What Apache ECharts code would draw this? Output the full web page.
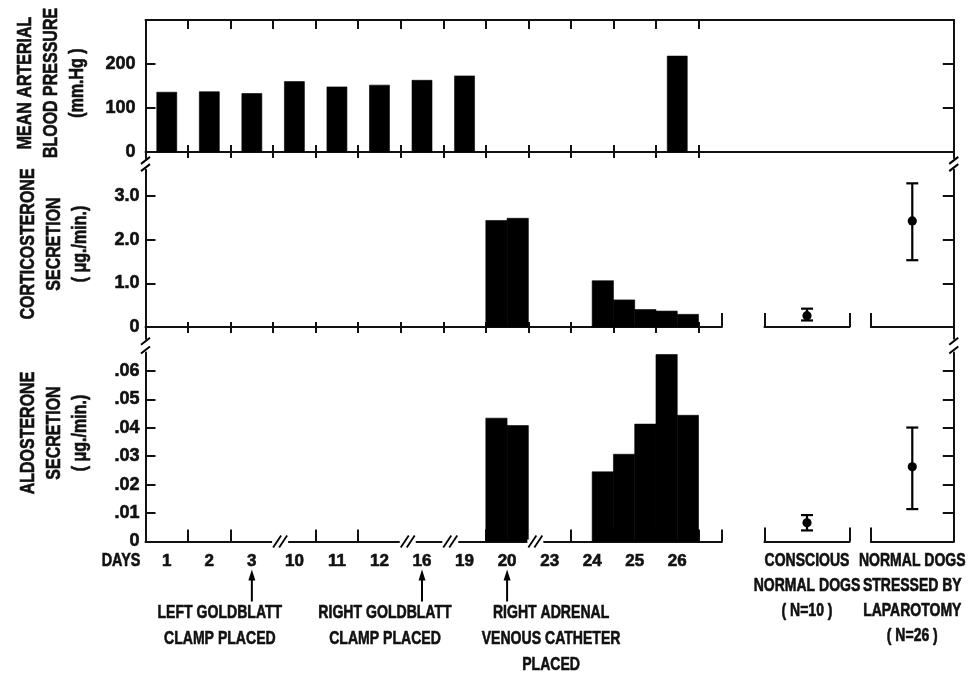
<!DOCTYPE html>
<html><head><meta charset="utf-8">
<script src="https://cdn.jsdelivr.net/npm/echarts@6/dist/echarts.min.js"></script>
<style>html,body{margin:0;padding:0;background:#fff}#c{width:969px;height:673px}</style>
</head><body><div id="c"></div>
<script>
// ---------------- DATA ----------------
const days = ['1','2','3','10','11','12','16','19','20','23','24','25','26'];
const bloodPressure = [136,137,133,160,148,152,163,173,null,null,null,null,218];
// adrenal secretion, first and second half of each day
const corticoFirstHalf  = [null,null,null,null,null,null,null,null,2.44,null,null,0.62,0.365];
const corticoSecondHalf = [null,null,null,null,null,null,null,null,2.49,null,1.06,0.40,0.29];
const aldoFirstHalf  = [null,null,null,null,null,null,null,null,0.0434,null,null,0.0307,0.0658];
const aldoSecondHalf = [null,null,null,null,null,null,null,null,0.0408,null,0.0245,0.0413,0.0444];
// control groups
const groups = ['CONSCIOUS\nNORMAL DOGS\n( N=10 )', 'NORMAL DOGS\nSTRESSED BY\nLAPAROTOMY\n( N=26 )'];
const corticoMean = [0.26, 2.43], corticoLow = [0.15, 1.53], corticoHigh = [0.42, 3.29];
const aldoMean = [0.0066, 0.0263], aldoLow = [0.0039, 0.0114], aldoHigh = [0.0093, 0.0401];
// tick labels
const bpTicks = [0,100,200], bpLabels = ['0','100','200'];
const corticoTicks = [0,1,2,3], corticoLabels = ['0','1.0','2.0','3.0'];
const aldoTicks = [0,0.01,0.02,0.03,0.04,0.05,0.06], aldoLabels = ['0','.01','.02','.03','.04','.05','.06'];
// time-axis breaks (between day index b-1 and b) and annotations
const breakAfter = [3,6,7,9];
const annotationDays = ['3','16','20'];
const annotationTexts = ['LEFT GOLDBLATT\nCLAMP PLACED','RIGHT GOLDBLATT\nCLAMP PLACED','RIGHT ADRENAL\nVENOUS CATHETER\nPLACED'];

// ---------------- LAYOUT ----------------
const annotationShift = [-32,-37,44];
const FONT = "'Liberation Sans',Arial,sans-serif";
const INK = '#111';
const L = 145.5, D = 42.54;
const gx = d => L + d * D;
const MAIN_MAX = 13.55, CONS = [14.55, 16.55], STRS = [17.05, 19];
const P = {
  top: {top: 20, bottom: 158.2, min: -14, max: 300},
  mid: {top: 169.8, bottom: 338.8, min: -0.27, max: 3.6},
  bot: {top: 352.5, bottom: 541.5, min: 0, max: 0.0665}
};
const lineStyle = {color: INK, width: 2};
const dayBounds = days.map((d, i) => i + 1);
const HEAVY = 0.6;

function grid(x0, x1, p) {
  return {left: gx(x0), width: gx(x1) - gx(x0), top: p.top, height: p.bottom - p.top, containLabel: false, outerBoundsMode: 'none'};
}
function nearestLabel(vals, labs) {
  return v => { let bi = 0; vals.forEach((t, i) => { if (Math.abs(t - v) < Math.abs(vals[bi] - v)) bi = i; }); return labs[bi]; };
}
function yAx(g, p, o) {
  return {
    type: 'value', gridIndex: g, min: p.min, max: p.max, position: o.position || 'left',
    axisLine: {show: !!o.line, onZero: false, lineStyle},
    axisTick: {show: !!o.ticks, inside: true, length: o.tickLen || 10, customValues: o.ticks || [], lineStyle},
    axisLabel: {show: !!o.labelValues, customValues: o.labelValues, formatter: o.formatter, margin: o.margin || 6,
      color: INK, fontFamily: FONT, fontWeight: 'bold', fontSize: 18, textBorderColor: INK, textBorderWidth: HEAVY},
    splitLine: {show: false}, splitArea: {show: false}
  };
}
function xAx(g, min, max, o) {
  const ax = {
    type: 'value', gridIndex: g, min, max, position: o.position || 'bottom',
    axisLine: {show: !!o.line, onZero: o.onZeroIdx != null, lineStyle},
    axisTick: {show: !!o.ticks, inside: o.inside !== false, length: o.tickLen || 8, customValues: o.ticks || [], lineStyle},
    axisLabel: {show: !!o.labelValues, customValues: o.labelValues, formatter: o.formatter, margin: o.margin || 10,
      color: INK, fontFamily: FONT, fontWeight: 'bold', fontSize: o.fontSize || 17, textBorderColor: INK, textBorderWidth: HEAVY},
    splitLine: {show: false}
  };
  if (o.onZeroIdx != null) ax.axisLine.onZeroAxisIndex = o.onZeroIdx;
  return ax;
}

const grids = [
  grid(0, 19, P.top),
  grid(0, MAIN_MAX, P.mid), grid(CONS[0], CONS[1], P.mid), grid(STRS[0], STRS[1], P.mid),
  grid(0, MAIN_MAX, P.bot), grid(CONS[0], CONS[1], P.bot), grid(STRS[0], STRS[1], P.bot)
];

const yAxes = [
  yAx(0, P.top, {line: true, ticks: [100,200], labelValues: bpTicks, formatter: nearestLabel(bpTicks, bpLabels), margin: 10}),
  yAx(0, P.top, {position: 'right', line: true, ticks: [100,200], tickLen: 11}),
  yAx(1, P.mid, {line: true, ticks: [1,2,3], labelValues: corticoTicks, formatter: nearestLabel(corticoTicks, corticoLabels)}),
  yAx(2, P.mid, {}),
  yAx(3, P.mid, {position: 'right', line: true, ticks: [1,2,3], tickLen: 11}),
  yAx(4, P.bot, {line: true, ticks: aldoTicks.slice(1), labelValues: aldoTicks, formatter: nearestLabel(aldoTicks, aldoLabels)}),
  yAx(5, P.bot, {}),
  yAx(6, P.bot, {position: 'right', line: true, ticks: aldoTicks.slice(1), tickLen: 11})
];

const CONS_C = (CONS[0] + CONS[1]) / 2, STRS_C = (STRS[0] + STRS[1]) / 2;
const bottomTicks = dayBounds.filter(b => breakAfter.indexOf(b) < 0).concat([MAIN_MAX]);
const xAxes = [
  xAx(0, 0, 19, {position: 'top', line: true, ticks: dayBounds, tickLen: 9}),
  xAx(0, 0, 19, {line: true, ticks: dayBounds, tickLen: 7, onZeroIdx: 0}),
  xAx(0, 0, 19, {ticks: dayBounds, tickLen: 6, inside: false, onZeroIdx: 0}),
  xAx(1, 0, MAIN_MAX, {line: true, ticks: dayBounds, tickLen: 5, onZeroIdx: 2}),
  xAx(1, 0, MAIN_MAX, {ticks: dayBounds, tickLen: 6, inside: false, onZeroIdx: 2}),
  xAx(1, 0, MAIN_MAX, {ticks: [MAIN_MAX], tickLen: 14, onZeroIdx: 2}),
  xAx(2, CONS[0], CONS[1], {line: true, ticks: CONS, tickLen: 14, onZeroIdx: 3}),
  xAx(3, STRS[0], STRS[1], {line: true, ticks: [STRS[0]], tickLen: 14, onZeroIdx: 4}),
  xAx(4, 0, MAIN_MAX, {line: true, ticks: bottomTicks, tickLen: 12, onZeroIdx: 5,
    labelValues: days.map((d, i) => i + 0.5), formatter: v => days[Math.round(v - 0.5)], margin: 11}),
  xAx(5, CONS[0], CONS[1], {line: true, ticks: CONS, tickLen: 14, onZeroIdx: 6}),
  xAx(6, STRS[0], STRS[1], {line: true, ticks: [STRS[0]], tickLen: 14, onZeroIdx: 7})
];

// ---------------- SERIES ----------------
function rectRender(halfW) {
  return function (params, api) {
    const x = api.value(0), v = api.value(1);
    const a = api.coord([x - halfW, v]), b = api.coord([x + halfW, 0]);
    return {type: 'rect', shape: {x: a[0], y: a[1], width: b[0] - a[0], height: b[1] - a[1]},
      style: {fill: '#000', stroke: '#000', lineWidth: 0.6}};
  };
}
function halfDayData(first, second) {
  const out = [];
  first.forEach((v, i) => { if (v != null) out.push([i + 0.25, v]); });
  second.forEach((v, i) => { if (v != null) out.push([i + 0.75, v]); });
  return out;
}
function errRender(params, api) {
  const x = api.value(0);
  const pm = api.coord([x, api.value(1)]), pl = api.coord([x, api.value(2)]), ph = api.coord([x, api.value(3)]);
  const cap = 6, st = {stroke: '#000', lineWidth: 2.2};
  return {type: 'group', children: [
    {type: 'line', shape: {x1: pl[0], y1: pl[1], x2: ph[0], y2: ph[1]}, style: st},
    {type: 'line', shape: {x1: pl[0] - cap, y1: pl[1], x2: pl[0] + cap, y2: pl[1]}, style: st},
    {type: 'line', shape: {x1: ph[0] - cap, y1: ph[1], x2: ph[0] + cap, y2: ph[1]}, style: st},
    {type: 'circle', shape: {cx: pm[0], cy: pm[1], r: 4.6}, style: {fill: '#000'}}
  ]};
}
function breakRender(params, api) {
  const p = api.coord([api.value(0), 0]);
  const st = {stroke: '#000', lineWidth: 1.8};
  return {type: 'group', children: [
    {type: 'rect', shape: {x: p[0] - 1, y: p[1] - 2, width: 16, height: 4}, style: {fill: '#fff'}},
    {type: 'line', shape: {x1: p[0], y1: p[1] + 6, x2: p[0] + 8, y2: p[1] - 6}, style: st},
    {type: 'line', shape: {x1: p[0] + 6, y1: p[1] + 6, x2: p[0] + 14, y2: p[1] - 6}, style: st}
  ]};
}
function condensedText(text, x, y, size, sx, lh) {
  return {type: 'text', x, y, scaleX: sx,
    style: {text, x: 0, y: 0, align: 'center', verticalAlign: 'top', font: 'bold ' + size + 'px ' + FONT, lineHeight: lh,
      fill: INK, stroke: INK, lineWidth: HEAVY}};
}
function annotRender(params, api) {
  const i = params.dataIndex;
  const p = api.coord([api.value(0), 0]);
  return {type: 'group', children: [
    {type: 'line', shape: {x1: p[0], y1: p[1] + 37, x2: p[0], y2: p[1] + 60}, style: {stroke: '#000', lineWidth: 2}},
    {type: 'polygon', shape: {points: [[p[0], p[1] + 28], [p[0] - 3.5, p[1] + 39], [p[0] + 3.5, p[1] + 39]]}, style: {fill: '#000'}},
    condensedText(annotationTexts[i], p[0] + annotationShift[i], p[1] + 58, 18.5, 0.76, 26)
  ]};
}
function groupLabelRender(gi) {
  return function (params, api) {
    const p = api.coord([api.value(0), 0]);
    return condensedText(groups[gi], p[0], p[1] + 7, 17.5, 0.8, 25);
  };
}
function custom(xi, yi, data, render) {
  return {type: 'custom', xAxisIndex: xi, yAxisIndex: yi, data, renderItem: render, clip: false, silent: true, encode: {x: 0, y: 1}};
}

const series = [
  custom(1, 0, bloodPressure.map((v, i) => v == null ? null : [i + 0.5, v]).filter(Boolean), rectRender(0.235)),
  custom(3, 2, halfDayData(corticoFirstHalf, corticoSecondHalf), rectRender(0.25)),
  custom(6, 3, [[CONS_C, corticoMean[0], corticoLow[0], corticoHigh[0]]], errRender),
  custom(7, 4, [[STRS_C, corticoMean[1], corticoLow[1], corticoHigh[1]]], errRender),
  custom(8, 5, halfDayData(aldoFirstHalf, aldoSecondHalf), rectRender(0.25)),
  custom(9, 6, [[CONS_C, aldoMean[0], aldoLow[0], aldoHigh[0]]], errRender),
  custom(10, 7, [[STRS_C, aldoMean[1], aldoLow[1], aldoHigh[1]]], errRender),
  custom(8, 5, breakAfter.map(b => [b, 0]), breakRender),
  custom(8, 5, annotationDays.map(d => [days.indexOf(d) + 0.5, 0]), annotRender),
  custom(9, 6, [[CONS_C, 0]], groupLabelRender(0)),
  custom(10, 7, [[STRS_C, 0]], groupLabelRender(1))
];

// ---------------- GRAPHICS (titles, axis breaks) ----------------
function yTitle(text, cx, cy) {
  return {type: 'text', x: cx, y: cy, rotation: Math.PI / 2, scaleX: 0.8,
    style: {text, align: 'center', verticalAlign: 'middle', font: 'bold 20px ' + FONT, lineHeight: 26,
      fill: INK, stroke: INK, lineWidth: HEAVY}};
}
function slash(x, cy) {
  return {type: 'line', shape: {x1: x - 4.5, y1: cy + 3.5, x2: x + 4.5, y2: cy - 3.5}, style: {stroke: '#000', lineWidth: 2}};
}
const R = gx(19);
const graphics = [
  yTitle('MEAN ARTERIAL\nBLOOD PRESSURE\n(mm.Hg )', 51, 83),
  yTitle('CORTICOSTERONE\nSECRETION\n( μg./min.)', 54, 244),
  yTitle('ALDOSTERONE\nSECRETION\n( μg./min.)', 54, 433),
  {type: 'text', x: 121, y: 561.5, scaleX: 0.8,
    style: {text: 'DAYS', align: 'center', verticalAlign: 'middle', font: 'bold 18px ' + FONT, fill: INK, stroke: INK, lineWidth: HEAVY}}
];
[L, R].forEach(x => {
  graphics.push(slash(x, P.top.bottom + 2.2), slash(x, P.mid.top - 2.2));
  graphics.push(slash(x, P.mid.bottom + 2.5), slash(x, P.bot.top - 2.5));
});

const chart = echarts.init(document.getElementById('c'), null, {renderer: 'canvas'});
chart.setOption({
  animation: false,
  backgroundColor: '#fff',
  grid: grids, xAxis: xAxes, yAxis: yAxes, series, graphic: graphics
});
</script></body></html>
